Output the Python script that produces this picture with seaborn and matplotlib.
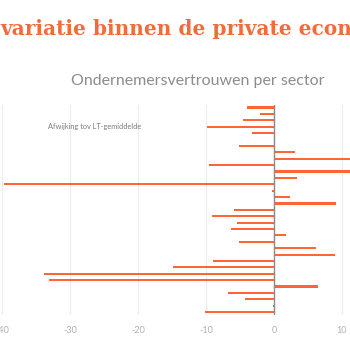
import seaborn as sns
import matplotlib.pyplot as plt
import numpy as np
import pandas as pd

sns.set_style('white')
plt.rcParams['font.family'] = ['Lato', 'DejaVu Sans']

# sectors (labels are cut off in the original, so just numbered)
sectors = ['sector %02d' % i for i in range(1, 34)]
afwijking = [-3.9, -2.1, -4.6, -9.8, -3.3, 0.0, -5.2, 3.1, 13.0, -9.6,
             12.5, 3.4, -39.7, -0.3, 2.4, 9.1, -5.9, -9.1, -5.5, -6.3,
             1.8, -5.2, 6.2, 9.0, -9.0, -14.8, -33.9, -33.1, 6.4, -6.7,
             -4.3, -0.2, -10.2]
xticks = [-40, -30, -20, -10, 0, 10]

orange = '#ff6633'

df = pd.DataFrame({'sector': sectors, 'afwijking': afwijking})

fig = plt.figure(figsize=(3.5, 3.5), dpi=100)
ax = fig.add_axes([0, 0.1, 1, 0.6])

sns.barplot(data=df, x='afwijking', y='sector', orient='h', color=orange,
            width=0.34, saturation=1, linewidth=0, ax=ax)

ax.set_xlim(-40.3, 11.18)
ax.set_ylim(32.45, -0.4)
ax.set_xticks(xticks)
ax.set_xticklabels([str(t) for t in xticks])
ax.tick_params(axis='x', length=0, labelsize=6.5, labelcolor='#b0b0b0', pad=8)
ax.set_yticks([])
ax.set_xlabel('')
ax.set_ylabel('')
ax.grid(axis='x', color='#ececec', linewidth=0.8)
ax.set_axisbelow(True)
for s in ax.spines.values():
    s.set_visible(False)
ax.axvline(0, color='#8a8a8a', linewidth=1)

fig.text(48 / 350, 1 - 126 / 350, 'Afwijking tov LT-gemiddelde', fontsize=5.3,
         color='#7a7a7a', va='center', ha='left')
fig.text(198 / 350, 1 - 81 / 350, 'Ondernemersvertrouwen per sector',
         fontsize=11.5, color='#8c8c8c', va='center', ha='center')
fig.text(0, 1 - 29 / 350, 'variatie binnen de private economie',
         fontsize=14.5, fontweight='bold', family=['DejaVu Serif'],
         color='#f26b3b', va='center', ha='left')

fig.savefig('out.png', dpi=100, facecolor='white')
